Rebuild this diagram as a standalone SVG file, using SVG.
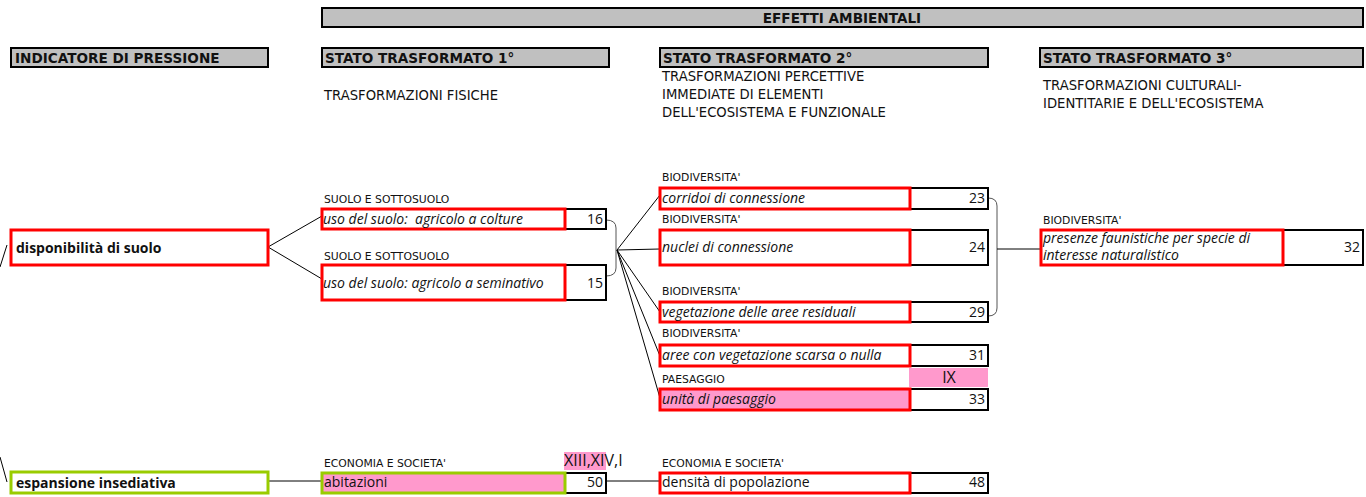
<svg xmlns="http://www.w3.org/2000/svg" width="1366" height="497" viewBox="0 0 1366 497">
<style>
text{font-family:"Open Sans","Liberation Sans",sans-serif;fill:#111}
.cap{font-family:"DejaVu Sans","Open Sans",sans-serif}
.hdr{fill:#c0c0c0;stroke:#000;stroke-width:2}
.ht{font-size:13.6px;font-weight:bold}
.sub{font-size:13.2px}
.lab{font-size:10.8px}
.red{fill:#fff;stroke:#ff0000;stroke-width:3}
.redp{fill:#ff99cc;stroke:#ff0000;stroke-width:3}
.grn{fill:#fff;stroke:#99cc00;stroke-width:3}
.grnp{fill:#ff99cc;stroke:#99cc00;stroke-width:3}
.num{fill:#fff;stroke:#000;stroke-width:2}
.it{font-size:14px;font-style:italic}
.nt{font-size:14px}
.n{font-size:14px;text-anchor:end}
.bt{font-size:14px;font-weight:bold}
.pk{fill:#ff99cc}
.conn line,.conn path{stroke:#000;stroke-width:1;fill:none}
.conn .br{stroke:#555}
</style>
<g id="headers">
<rect class="hdr" x="322" y="8" width="1041" height="19"/>
<text class="ht cap" x="842" y="22.5" text-anchor="middle">EFFETTI AMBIENTALI</text>
<rect class="hdr" x="11" y="48" width="257" height="19"/>
<text class="ht cap" x="15" y="63">INDICATORE DI PRESSIONE</text>
<rect class="hdr" x="322" y="48" width="287" height="19"/>
<text class="ht cap" x="325" y="63">STATO TRASFORMATO 1°</text>
<rect class="hdr" x="660" y="48" width="328" height="19"/>
<text class="ht cap" x="663" y="63">STATO TRASFORMATO 2°</text>
<rect class="hdr" x="1040" y="48" width="323" height="19"/>
<text class="ht cap" x="1043" y="63">STATO TRASFORMATO 3°</text>
<text class="sub cap" x="324" y="100">TRASFORMAZIONI FISICHE</text>
<text class="sub cap" x="662" y="81">TRASFORMAZIONI PERCETTIVE</text>
<text class="sub cap" x="662" y="99">IMMEDIATE DI ELEMENTI</text>
<text class="sub cap" x="662" y="117">DELL'ECOSISTEMA E FUNZIONALE</text>
<text class="sub cap" x="1043" y="90">TRASFORMAZIONI CULTURALI-</text>
<text class="sub cap" x="1043" y="108">IDENTITARIE E DELL'ECOSISTEMA</text>
</g>
<g class="conn" id="connectors">
<line x1="0" y1="267" x2="7" y2="245"/>
<line x1="0" y1="457" x2="7" y2="482"/>
<line x1="268" y1="247" x2="322" y2="216"/>
<line x1="268" y1="247" x2="322" y2="279"/>
<path class="br" d="M606,220 Q616,220 616,228 L616,268 Q616,276 606,276"/>
<line x1="617" y1="250" x2="660" y2="195"/>
<line x1="617" y1="250" x2="660" y2="249"/>
<line x1="617" y1="250" x2="660" y2="312"/>
<line x1="617" y1="250" x2="660" y2="356"/>
<line x1="617" y1="250" x2="660" y2="398"/>
<path class="br" d="M988,198 Q997,198 997,206 L997,308 Q997,316 988,316"/>
<line x1="997" y1="249" x2="1041" y2="249"/>
<line x1="268" y1="481" x2="322" y2="481"/>
<line x1="606" y1="481" x2="660" y2="481"/>
</g>
<g id="n-disponibilita">
<rect class="red" x="11" y="230" width="257" height="35"/>
<text class="bt" x="16" y="253">disponibilità di suolo</text>
</g>
<g id="n-espansione">
<rect class="grn" x="11" y="472" width="257" height="21"/>
<text class="bt" x="16" y="488">espansione insediativa</text>
</g>
<g id="n-16">
<text class="lab cap" x="324" y="203">SUOLO E SOTTOSUOLO</text>
<rect class="num" x="565" y="209" width="41" height="20"/>
<rect class="red" x="322" y="209" width="243" height="20"/>
<text class="it" x="323" y="224" xml:space="preserve">uso del suolo:  agricolo a colture</text>
<text class="n" x="603" y="224">16</text>
</g>
<g id="n-15">
<text class="lab cap" x="324" y="260">SUOLO E SOTTOSUOLO</text>
<rect class="num" x="565" y="265" width="41" height="35"/>
<rect class="red" x="322" y="265" width="243" height="35"/>
<text class="it" x="323" y="288">uso del suolo: agricolo a seminativo</text>
<text class="n" x="603" y="288">15</text>
</g>
<g id="n-23">
<text class="lab cap" x="662" y="181">BIODIVERSITA'</text>
<rect class="num" x="910" y="188" width="78" height="21"/>
<rect class="red" x="660" y="188" width="250" height="21"/>
<text class="it" x="662" y="203">corridoi di connessione</text>
<text class="n" x="985" y="203">23</text>
</g>
<g id="n-24">
<text class="lab cap" x="662" y="223">BIODIVERSITA'</text>
<rect class="num" x="910" y="230" width="78" height="35"/>
<rect class="red" x="660" y="230" width="250" height="35"/>
<text class="it" x="662" y="252">nuclei di connessione</text>
<text class="n" x="985" y="252">24</text>
</g>
<g id="n-29">
<text class="lab cap" x="662" y="295">BIODIVERSITA'</text>
<rect class="num" x="910" y="302" width="78" height="20"/>
<rect class="red" x="660" y="302" width="250" height="20"/>
<text class="it" x="662" y="317">vegetazione delle aree residuali</text>
<text class="n" x="985" y="317">29</text>
</g>
<g id="n-31">
<text class="lab cap" x="662" y="337">BIODIVERSITA'</text>
<rect class="num" x="910" y="345" width="78" height="21"/>
<rect class="red" x="660" y="345" width="250" height="21"/>
<text class="it" x="662" y="360">aree con vegetazione scarsa o nulla</text>
<text class="n" x="985" y="360">31</text>
</g>
<g id="n-33">
<text class="lab cap" x="662" y="383">PAESAGGIO</text>
<rect class="pk" x="909" y="368" width="79" height="19"/>
<text x="949" y="383" font-size="16" text-anchor="middle">IX</text>
<rect class="num" x="910" y="389" width="78" height="21"/>
<rect class="redp" x="660" y="389" width="250" height="21"/>
<text class="it" x="662" y="404">unità di paesaggio</text>
<text class="n" x="985" y="404">33</text>
</g>
<g id="n-32">
<text class="lab cap" x="1043" y="224">BIODIVERSITA'</text>
<rect class="num" x="1283" y="230" width="80" height="35"/>
<rect class="red" x="1041" y="230" width="242" height="35"/>
<text class="it" x="1043" y="243">presenze faunistiche per specie di</text>
<text class="it" x="1043" y="260">interesse naturalistico</text>
<text class="n" x="1360" y="252">32</text>
</g>
<g id="n-50">
<text class="lab cap" x="324" y="467">ECONOMIA E SOCIETA'</text>
<rect class="pk" x="564" y="452" width="42" height="18"/>
<text x="564" y="466" font-size="16">XIII,XIV,I</text>
<rect class="num" x="565" y="473" width="41" height="20"/>
<rect class="grnp" x="322" y="473" width="243" height="20"/>
<text class="nt" x="324" y="487">abitazioni</text>
<text class="n" x="603" y="487">50</text>
</g>
<g id="n-48">
<text class="lab cap" x="662" y="467">ECONOMIA E SOCIETA'</text>
<rect class="num" x="910" y="473" width="78" height="20"/>
<rect class="red" x="660" y="473" width="250" height="20"/>
<text class="nt" x="662" y="487">densità di popolazione</text>
<text class="n" x="985" y="487">48</text>
</g>
</svg>
